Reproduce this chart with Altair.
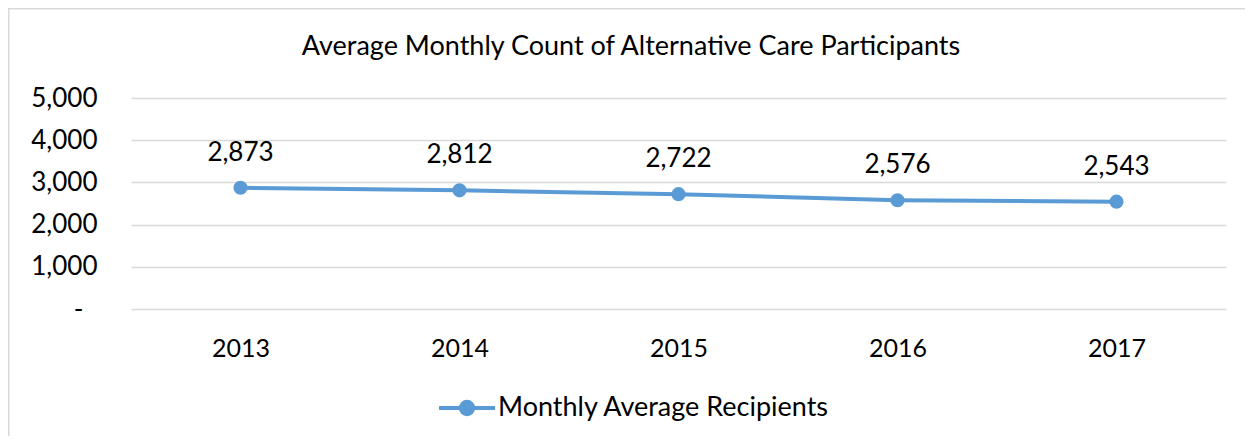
import altair as alt
import pandas as pd

years = ["2013", "2014", "2015", "2016", "2017"]
recipients = [2873, 2812, 2722, 2576, 2543]
series_name = "Monthly Average Recipients"
title_text = "Average Monthly Count of Alternative Care Participants"
y_ticks = [0, 1000, 2000, 3000, 4000, 5000]

df = pd.DataFrame({"year": years, "value": recipients, "series": [series_name] * len(years)})

FONT = "Lato"
BLUE = "#5B9BD5"
GRID = "#D9D9D9"

W, H = 1095, 211
PL, PT, PR, PB = 123, 90, 19, 127

xenc = alt.X(
    "year:N",
    sort=years,
    scale=alt.Scale(type="point", padding=0.5),
    axis=alt.Axis(title=None, labelAngle=0, domain=False, ticks=False, grid=False,
                  labelPadding=27, labelFontSize=25, labelFont=FONT, labelColor="#000000"),
)
yenc = alt.Y(
    "value:Q",
    scale=alt.Scale(domain=[0, 5000], nice=False),
    axis=alt.Axis(title=None, values=y_ticks, domain=False, ticks=False, grid=True,
                  gridColor=GRID, gridWidth=1.5,
                  labelPadding={"condition": {"test": "datum.value === 0", "value": 48}, "value": 34},
                  labelFontSize=26, labelFont=FONT, labelColor="#000000",
                  labelExpr="datum.value == 0 ? '-' : format(datum.value, ',')"),
)

legend_path = ("M-1,0H1M-0.22,0A0.22,0.22,0,1,0,0.22,0A0.22,0.22,0,1,0,-0.22,0Z")
color = alt.Color(
    "series:N",
    scale=alt.Scale(range=[BLUE]),
    legend=alt.Legend(title=None, orient="none", legendX=306, legendY=280, padding=0,
                      symbolType=legend_path, symbolSize=3136, symbolStrokeWidth=4,
                      symbolFillColor=BLUE, symbolStrokeColor=BLUE, labelOffset=1,
                      labelFontSize=27, labelFont=FONT, labelColor="#000000", labelLimit=600),
)

base = alt.Chart(df)
line = base.mark_line(strokeWidth=4).encode(x=xenc, y=yenc, color=color)
points = base.mark_point(filled=True, size=200, opacity=1).encode(x=xenc, y=yenc, color=color)
labels = base.mark_text(dy=-35, fontSize=26, font=FONT, color="#000000").encode(
    x=xenc, y=yenc, text=alt.Text("value:Q", format=",")
)

one = pd.DataFrame({"t": [title_text]})
border = alt.Chart(one).mark_rect(
    fill=None, stroke=GRID, strokeWidth=2
).encode(
    x=alt.value(-PL + 0.5), x2=alt.value(W + PR + 20),
    y=alt.value(-PT + 0.5), y2=alt.value(H + PB + 20),
)
title = alt.Chart(one).mark_text(
    fontSize=27, font=FONT, color="#000000", align="center", baseline="middle"
).encode(text="t:N", x=alt.value(500), y=alt.value(-51))

chart = alt.layer(border, title, line, points, labels).properties(
    width=W, height=H,
    autosize=alt.AutoSizeParams(type="none"),
    padding={"left": PL, "top": PT, "right": PR, "bottom": PB},
    background="white",
).configure_view(strokeWidth=0, stroke="transparent")

chart.save("out.html", embed_options={"renderer": "svg", "actions": False})
